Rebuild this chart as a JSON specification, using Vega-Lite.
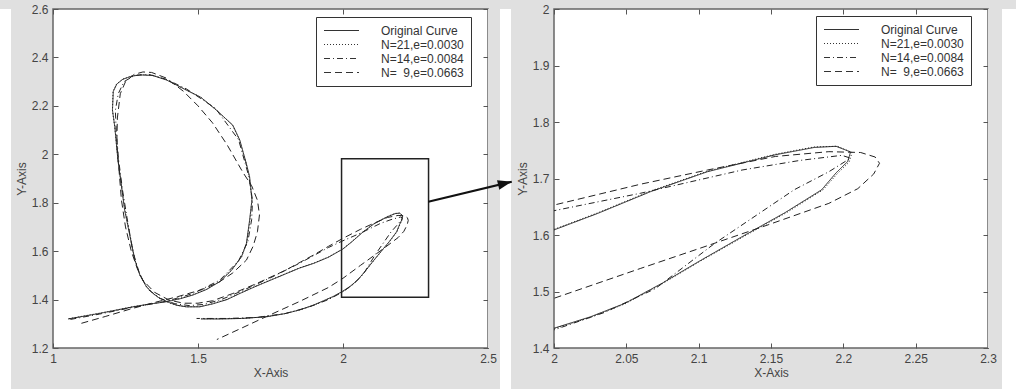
{
  "$schema": "https://vega.github.io/schema/vega-lite/v6.json",
  "background": "#e0e0e0",
  "padding": {"left": 0, "right": 0, "top": 2, "bottom": 0},
  "spacing": 0,
  "bounds": "flush",
  "config": {
    "view": {"stroke": "#666666", "strokeWidth": 1.5, "fill": "white"},
    "axis": {
      "domain": false, "grid": false, "tickSize": -5, "tickColor": "#555555", "tickWidth": 1,
      "labelFont": "Liberation Sans", "labelFontSize": 12, "labelColor": "#444444",
      "labelFlush": false, "labelOverlap": false, "labelPadding": 10,
      "titleFont": "Liberation Sans", "titleFontSize": 12, "titleFontWeight": "normal", "titleColor": "#444444",
      "titlePadding": 3, "minExtent": 0
    },
    "legend": {
      "orient": "none", "title": null, "fillColor": "white", "strokeColor": "#333333", "strokeWidth": 1,
      "padding": 7, "symbolType": "M-3,0L3,0", "symbolSize": 136, "symbolStrokeWidth": 1,
      "symbolStrokeColor": "#333333", "symbolFillColor": "transparent", "symbolOffset": 12,
      "labelOffset": 33, "labelFont": "Liberation Sans", "labelFontSize": 12, "labelColor": "#333333",
      "rowPadding": 1, "labelLimit": 200
    }
  },
  "resolve": {"scale": {"x": "independent", "y": "independent", "strokeDash": "independent"}, "legend": {"strokeDash": "independent"}},
  "datasets": {
    "curves": [
      {"s":"o","i":1,"x":1.052,"y":1.320},{"s":"o","i":2,"x":1.10,"y":1.330},{"s":"o","i":3,"x":1.161,"y":1.343},{"s":"o","i":4,"x":1.22,"y":1.357},{"s":"o","i":5,"x":1.276,"y":1.370},{"s":"o","i":6,"x":1.33,"y":1.381},{"s":"o","i":7,"x":1.391,"y":1.391},{"s":"o","i":8,"x":1.44,"y":1.404},{"s":"o","i":9,"x":1.483,"y":1.419},{"s":"o","i":10,"x":1.53,"y":1.442},
      {"s":"o","i":11,"x":1.575,"y":1.474},{"s":"o","i":12,"x":1.615,"y":1.52},{"s":"o","i":13,"x":1.65,"y":1.577},{"s":"o","i":14,"x":1.667,"y":1.632},{"s":"o","i":15,"x":1.678,"y":1.728},{"s":"o","i":16,"x":1.686,"y":1.811},{"s":"o","i":17,"x":1.678,"y":1.907},{"s":"o","i":18,"x":1.667,"y":1.96},{"s":"o","i":19,"x":1.644,"y":2.059},{"s":"o","i":20,"x":1.62,"y":2.12},
      {"s":"o","i":21,"x":1.563,"y":2.183},{"s":"o","i":22,"x":1.51,"y":2.235},{"s":"o","i":23,"x":1.46,"y":2.265},{"s":"o","i":24,"x":1.391,"y":2.307},{"s":"o","i":25,"x":1.345,"y":2.325},{"s":"o","i":26,"x":1.30,"y":2.328},{"s":"o","i":27,"x":1.27,"y":2.322},{"s":"o","i":28,"x":1.241,"y":2.31},{"s":"o","i":29,"x":1.22,"y":2.29},{"s":"o","i":30,"x":1.208,"y":2.26},
      {"s":"o","i":31,"x":1.205,"y":2.183},{"s":"o","i":32,"x":1.213,"y":2.114},{"s":"o","i":33,"x":1.224,"y":1.976},{"s":"o","i":34,"x":1.236,"y":1.87},{"s":"o","i":35,"x":1.247,"y":1.770},{"s":"o","i":36,"x":1.265,"y":1.665},{"s":"o","i":37,"x":1.282,"y":1.563},{"s":"o","i":38,"x":1.30,"y":1.50},{"s":"o","i":39,"x":1.322,"y":1.453},{"s":"o","i":40,"x":1.345,"y":1.425},
      {"s":"o","i":41,"x":1.368,"y":1.405},{"s":"o","i":42,"x":1.40,"y":1.388},{"s":"o","i":43,"x":1.426,"y":1.377},{"s":"o","i":44,"x":1.46,"y":1.370},{"s":"o","i":45,"x":1.506,"y":1.370},{"s":"o","i":46,"x":1.55,"y":1.382},{"s":"o","i":47,"x":1.60,"y":1.40},{"s":"o","i":48,"x":1.644,"y":1.425},{"s":"o","i":49,"x":1.70,"y":1.455},{"s":"o","i":50,"x":1.75,"y":1.48},
      {"s":"o","i":51,"x":1.80,"y":1.505},{"s":"o","i":52,"x":1.85,"y":1.53},{"s":"o","i":53,"x":1.90,"y":1.55},{"s":"o","i":54,"x":1.95,"y":1.575},{"s":"o","i":55,"x":2.00,"y":1.609},{"s":"o","i":56,"x":2.03,"y":1.638},{"s":"o","i":57,"x":2.067,"y":1.677},{"s":"o","i":58,"x":2.106,"y":1.712},{"s":"o","i":59,"x":2.153,"y":1.742},{"s":"o","i":60,"x":2.18,"y":1.755},
      {"s":"o","i":61,"x":2.195,"y":1.757},{"s":"o","i":62,"x":2.205,"y":1.747},{"s":"o","i":63,"x":2.203,"y":1.73},{"s":"o","i":64,"x":2.195,"y":1.71},{"s":"o","i":65,"x":2.185,"y":1.68},{"s":"o","i":66,"x":2.16,"y":1.64},{"s":"o","i":67,"x":2.13,"y":1.597},{"s":"o","i":68,"x":2.10,"y":1.553},{"s":"o","i":69,"x":2.075,"y":1.515},{"s":"o","i":70,"x":2.049,"y":1.479},
      {"s":"o","i":71,"x":2.025,"y":1.455},{"s":"o","i":72,"x":2.00,"y":1.435},{"s":"o","i":73,"x":1.965,"y":1.412},{"s":"o","i":74,"x":1.90,"y":1.378},{"s":"o","i":75,"x":1.85,"y":1.357},{"s":"o","i":76,"x":1.80,"y":1.342},{"s":"o","i":77,"x":1.736,"y":1.329},{"s":"o","i":78,"x":1.65,"y":1.322},{"s":"o","i":79,"x":1.58,"y":1.320},{"s":"o","i":80,"x":1.51,"y":1.320},

      {"s":"t","i":1,"x":1.055,"y":1.321},{"s":"t","i":2,"x":1.10,"y":1.331},{"s":"t","i":3,"x":1.161,"y":1.344},{"s":"t","i":4,"x":1.22,"y":1.357},{"s":"t","i":5,"x":1.276,"y":1.371},{"s":"t","i":6,"x":1.33,"y":1.381},{"s":"t","i":7,"x":1.391,"y":1.392},{"s":"t","i":8,"x":1.44,"y":1.405},{"s":"t","i":9,"x":1.483,"y":1.420},{"s":"t","i":10,"x":1.53,"y":1.443},
      {"s":"t","i":11,"x":1.575,"y":1.475},{"s":"t","i":12,"x":1.615,"y":1.521},{"s":"t","i":13,"x":1.651,"y":1.578},{"s":"t","i":14,"x":1.668,"y":1.633},{"s":"t","i":15,"x":1.679,"y":1.728},{"s":"t","i":16,"x":1.686,"y":1.812},{"s":"t","i":17,"x":1.677,"y":1.907},{"s":"t","i":18,"x":1.666,"y":1.961},{"s":"t","i":19,"x":1.643,"y":2.060},{"s":"t","i":20,"x":1.619,"y":2.121},
      {"s":"t","i":21,"x":1.562,"y":2.184},{"s":"t","i":22,"x":1.509,"y":2.236},{"s":"t","i":23,"x":1.459,"y":2.266},{"s":"t","i":24,"x":1.390,"y":2.308},{"s":"t","i":25,"x":1.344,"y":2.326},{"s":"t","i":26,"x":1.30,"y":2.329},{"s":"t","i":27,"x":1.269,"y":2.323},{"s":"t","i":28,"x":1.240,"y":2.31},{"s":"t","i":29,"x":1.219,"y":2.29},{"s":"t","i":30,"x":1.207,"y":2.26},
      {"s":"t","i":31,"x":1.205,"y":2.182},{"s":"t","i":32,"x":1.213,"y":2.113},{"s":"t","i":33,"x":1.224,"y":1.975},{"s":"t","i":34,"x":1.236,"y":1.869},{"s":"t","i":35,"x":1.248,"y":1.769},{"s":"t","i":36,"x":1.266,"y":1.664},{"s":"t","i":37,"x":1.283,"y":1.562},{"s":"t","i":38,"x":1.301,"y":1.499},{"s":"t","i":39,"x":1.323,"y":1.452},{"s":"t","i":40,"x":1.346,"y":1.424},
      {"s":"t","i":41,"x":1.369,"y":1.404},{"s":"t","i":42,"x":1.40,"y":1.387},{"s":"t","i":43,"x":1.427,"y":1.376},{"s":"t","i":44,"x":1.46,"y":1.370},{"s":"t","i":45,"x":1.506,"y":1.371},{"s":"t","i":46,"x":1.55,"y":1.383},{"s":"t","i":47,"x":1.60,"y":1.401},{"s":"t","i":48,"x":1.644,"y":1.426},{"s":"t","i":49,"x":1.70,"y":1.456},{"s":"t","i":50,"x":1.75,"y":1.481},
      {"s":"t","i":51,"x":1.80,"y":1.506},{"s":"t","i":52,"x":1.85,"y":1.531},{"s":"t","i":53,"x":1.90,"y":1.551},{"s":"t","i":54,"x":1.95,"y":1.576},{"s":"t","i":55,"x":2.00,"y":1.610},{"s":"t","i":56,"x":2.03,"y":1.639},{"s":"t","i":57,"x":2.067,"y":1.678},{"s":"t","i":58,"x":2.106,"y":1.713},{"s":"t","i":59,"x":2.153,"y":1.743},{"s":"t","i":60,"x":2.18,"y":1.756},
      {"s":"t","i":61,"x":2.196,"y":1.757},{"s":"t","i":62,"x":2.206,"y":1.746},{"s":"t","i":63,"x":2.204,"y":1.729},{"s":"t","i":64,"x":2.196,"y":1.709},{"s":"t","i":65,"x":2.186,"y":1.680},{"s":"t","i":66,"x":2.161,"y":1.640},{"s":"t","i":67,"x":2.131,"y":1.597},{"s":"t","i":68,"x":2.10,"y":1.552},{"s":"t","i":69,"x":2.075,"y":1.514},{"s":"t","i":70,"x":2.049,"y":1.478},
      {"s":"t","i":71,"x":2.025,"y":1.454},{"s":"t","i":72,"x":2.00,"y":1.434},{"s":"t","i":73,"x":1.965,"y":1.411},{"s":"t","i":74,"x":1.90,"y":1.377},{"s":"t","i":75,"x":1.85,"y":1.357},{"s":"t","i":76,"x":1.80,"y":1.342},{"s":"t","i":77,"x":1.736,"y":1.329},{"s":"t","i":78,"x":1.65,"y":1.322},{"s":"t","i":79,"x":1.58,"y":1.321},{"s":"t","i":80,"x":1.512,"y":1.321},

      {"s":"c","i":1,"x":1.06,"y":1.318},{"s":"c","i":2,"x":1.16,"y":1.34},{"s":"c","i":3,"x":1.276,"y":1.368},{"s":"c","i":4,"x":1.391,"y":1.393},{"s":"c","i":5,"x":1.483,"y":1.425},{"s":"c","i":6,"x":1.575,"y":1.48},{"s":"c","i":7,"x":1.64,"y":1.56},{"s":"c","i":8,"x":1.672,"y":1.64},{"s":"c","i":9,"x":1.685,"y":1.73},{"s":"c","i":10,"x":1.688,"y":1.81},
      {"s":"c","i":11,"x":1.675,"y":1.91},{"s":"c","i":12,"x":1.64,"y":2.06},{"s":"c","i":13,"x":1.56,"y":2.19},{"s":"c","i":14,"x":1.46,"y":2.27},{"s":"c","i":15,"x":1.39,"y":2.31},{"s":"c","i":16,"x":1.33,"y":2.33},{"s":"c","i":17,"x":1.28,"y":2.325},{"s":"c","i":18,"x":1.245,"y":2.30},{"s":"c","i":19,"x":1.225,"y":2.25},{"s":"c","i":20,"x":1.215,"y":2.18},
      {"s":"c","i":21,"x":1.218,"y":2.10},{"s":"c","i":22,"x":1.226,"y":1.98},{"s":"c","i":23,"x":1.24,"y":1.85},{"s":"c","i":24,"x":1.255,"y":1.74},{"s":"c","i":25,"x":1.275,"y":1.60},{"s":"c","i":26,"x":1.30,"y":1.50},{"s":"c","i":27,"x":1.33,"y":1.44},{"s":"c","i":28,"x":1.37,"y":1.405},{"s":"c","i":29,"x":1.42,"y":1.383},{"s":"c","i":30,"x":1.47,"y":1.375},
      {"s":"c","i":31,"x":1.52,"y":1.38},{"s":"c","i":32,"x":1.58,"y":1.40},{"s":"c","i":33,"x":1.65,"y":1.435},{"s":"c","i":34,"x":1.75,"y":1.49},{"s":"c","i":35,"x":1.85,"y":1.55},{"s":"c","i":36,"x":1.95,"y":1.615},{"s":"c","i":37,"x":2.0,"y":1.643},{"s":"c","i":38,"x":2.06,"y":1.674},{"s":"c","i":39,"x":2.13,"y":1.715},{"s":"c","i":40,"x":2.17,"y":1.732},
      {"s":"c","i":41,"x":2.199,"y":1.741},{"s":"c","i":42,"x":2.205,"y":1.736},{"s":"c","i":43,"x":2.19,"y":1.712},{"s":"c","i":44,"x":2.166,"y":1.68},{"s":"c","i":45,"x":2.111,"y":1.585},{"s":"c","i":46,"x":2.07,"y":1.505},{"s":"c","i":47,"x":2.035,"y":1.463},{"s":"c","i":48,"x":2.0,"y":1.432},{"s":"c","i":49,"x":1.95,"y":1.40},{"s":"c","i":50,"x":1.88,"y":1.368},
      {"s":"c","i":51,"x":1.80,"y":1.342},{"s":"c","i":52,"x":1.70,"y":1.326},{"s":"c","i":53,"x":1.60,"y":1.322},{"s":"c","i":54,"x":1.495,"y":1.322},

      {"s":"d","i":1,"x":1.098,"y":1.302},{"s":"d","i":2,"x":1.18,"y":1.330},{"s":"d","i":3,"x":1.27,"y":1.362},{"s":"d","i":4,"x":1.35,"y":1.388},{"s":"d","i":5,"x":1.43,"y":1.412},{"s":"d","i":6,"x":1.51,"y":1.440},{"s":"d","i":7,"x":1.57,"y":1.47},{"s":"d","i":8,"x":1.62,"y":1.51},{"s":"d","i":9,"x":1.667,"y":1.563},{"s":"d","i":10,"x":1.69,"y":1.62},
      {"s":"d","i":11,"x":1.705,"y":1.68},{"s":"d","i":12,"x":1.712,"y":1.75},{"s":"d","i":13,"x":1.705,"y":1.81},{"s":"d","i":14,"x":1.685,"y":1.87},{"s":"d","i":15,"x":1.655,"y":1.925},{"s":"d","i":16,"x":1.60,"y":2.04},{"s":"d","i":17,"x":1.55,"y":2.13},{"s":"d","i":18,"x":1.50,"y":2.20},{"s":"d","i":19,"x":1.45,"y":2.26},{"s":"d","i":20,"x":1.39,"y":2.315},
      {"s":"d","i":21,"x":1.34,"y":2.338},{"s":"d","i":22,"x":1.31,"y":2.340},{"s":"d","i":23,"x":1.28,"y":2.33},{"s":"d","i":24,"x":1.25,"y":2.30},{"s":"d","i":25,"x":1.232,"y":2.25},{"s":"d","i":26,"x":1.222,"y":2.15},{"s":"d","i":27,"x":1.220,"y":2.045},{"s":"d","i":28,"x":1.228,"y":1.93},{"s":"d","i":29,"x":1.236,"y":1.811},{"s":"d","i":30,"x":1.25,"y":1.70},
      {"s":"d","i":31,"x":1.27,"y":1.60},{"s":"d","i":32,"x":1.29,"y":1.53},{"s":"d","i":33,"x":1.31,"y":1.48},{"s":"d","i":34,"x":1.35,"y":1.43},{"s":"d","i":35,"x":1.40,"y":1.398},{"s":"d","i":36,"x":1.45,"y":1.385},{"s":"d","i":37,"x":1.50,"y":1.385},{"s":"d","i":38,"x":1.55,"y":1.395},{"s":"d","i":39,"x":1.62,"y":1.425},{"s":"d","i":40,"x":1.70,"y":1.465},
      {"s":"d","i":41,"x":1.80,"y":1.52},{"s":"d","i":42,"x":1.90,"y":1.585},{"s":"d","i":43,"x":1.95,"y":1.62},{"s":"d","i":44,"x":2.00,"y":1.653},{"s":"d","i":45,"x":2.06,"y":1.69},{"s":"d","i":46,"x":2.106,"y":1.715},{"s":"d","i":47,"x":2.153,"y":1.739},{"s":"d","i":48,"x":2.19,"y":1.7475},{"s":"d","i":49,"x":2.212,"y":1.746},{"s":"d","i":50,"x":2.222,"y":1.738},
      {"s":"d","i":51,"x":2.225,"y":1.727},{"s":"d","i":52,"x":2.221,"y":1.708},{"s":"d","i":53,"x":2.21,"y":1.682},{"s":"d","i":54,"x":2.19,"y":1.656},{"s":"d","i":55,"x":2.148,"y":1.618},{"s":"d","i":56,"x":2.106,"y":1.581},{"s":"d","i":57,"x":2.06,"y":1.541},{"s":"d","i":58,"x":2.00,"y":1.488},{"s":"d","i":59,"x":1.95,"y":1.45},{"s":"d","i":60,"x":1.85,"y":1.392},
      {"s":"d","i":61,"x":1.736,"y":1.33},{"s":"d","i":62,"x":1.65,"y":1.282},{"s":"d","i":63,"x":1.565,"y":1.235}
    ],
    "box": [{"x1": 1.995, "x2": 2.295, "y1": 1.41, "y2": 1.982}],
    "arrow": [{"i": 1, "x": 1.9131, "y": 1.6589}, {"i": 2, "x": 1.9708, "y": 1.6943}],
    "head": [{"x": 1.9708, "y": 1.6943}],
    "blank": [{}]
  },
  "hconcat": [
    {"width": 11, "height": 395, "view": {"fill": "white", "stroke": null}, "data": {"name": "blank"}, "mark": {"type": "point", "opacity": 0}},
    {"width": 42, "height": 339, "view": {"fill": "#e0e0e0", "stroke": null}, "data": {"name": "blank"}, "mark": {"type": "point", "opacity": 0}},
    {
      "width": 435, "height": 339,
      "resolve": {"axis": {"x": "independent", "y": "independent"}},
      "layer": [
        {
          "data": {"name": "curves"},
          "mark": {"type": "line", "clip": true, "strokeWidth": 1, "color": "#222222"},
          "encoding": {
            "x": {"field": "x", "type": "quantitative", "scale": {"domain": [1, 2.5], "nice": false, "zero": false},
                  "axis": {"orient": "bottom", "values": [1, 1.5, 2, 2.5], "format": "~g", "title": "X-Axis"}},
            "y": {"field": "y", "type": "quantitative", "scale": {"domain": [1.2, 2.6], "nice": false, "zero": false},
                  "axis": {"orient": "left", "values": [1.2, 1.4, 1.6, 1.8, 2, 2.2, 2.4, 2.6], "format": "~g", "title": "Y-Axis"}},
            "strokeDash": {"field": "s", "type": "nominal",
                  "scale": {"domain": ["o", "t", "c", "d"], "range": [[1, 0], [1, 2], [6, 3, 1, 3], [7, 4]]},
                  "legend": {"legendX": 263, "legendY": 8,
                    "labelExpr": "datum.value == 'o' ? 'Original Curve' : datum.value == 't' ? 'N=21,e=0.0030' : datum.value == 'c' ? 'N=14,e=0.0084' : 'N=\u00a0\u00a09,e=0.0663'"}},
            "order": {"field": "i", "type": "quantitative"}
          }
        },
        {
          "data": {"name": "box"},
          "mark": {"type": "rect", "fillOpacity": 0, "stroke": "#222222", "strokeWidth": 1.5, "clip": false},
          "encoding": {
            "x": {"field": "x1", "type": "quantitative", "scale": {"domain": [1, 2.5], "nice": false, "zero": false},
                  "axis": {"orient": "top", "values": [1, 1.5, 2, 2.5], "labels": false, "title": null}},
            "x2": {"field": "x2"},
            "y": {"field": "y1", "type": "quantitative", "scale": {"domain": [1.2, 2.6], "nice": false, "zero": false},
                  "axis": {"orient": "right", "values": [1.2, 1.4, 1.6, 1.8, 2, 2.2, 2.4, 2.6], "labels": false, "title": null}},
            "y2": {"field": "y2"}
          }
        }
      ]
    },
    {"width": 12, "height": 339, "view": {"fill": "#e0e0e0", "stroke": null}, "data": {"name": "blank"}, "mark": {"type": "point", "opacity": 0}},
    {"width": 11, "height": 395, "view": {"fill": "white", "stroke": null}, "data": {"name": "blank"}, "mark": {"type": "point", "opacity": 0}},
    {"width": 43, "height": 339, "view": {"fill": "#e0e0e0", "stroke": null}, "data": {"name": "blank"}, "mark": {"type": "point", "opacity": 0}},
    {
      "width": 434, "height": 339,
      "resolve": {"axis": {"x": "independent", "y": "independent"}},
      "layer": [
        {
          "data": {"name": "curves"},
          "mark": {"type": "line", "clip": true, "strokeWidth": 1, "color": "#222222"},
          "encoding": {
            "x": {"field": "x", "type": "quantitative", "scale": {"domain": [2, 2.3], "nice": false, "zero": false},
                  "axis": {"orient": "bottom", "values": [2, 2.05, 2.1, 2.15, 2.2, 2.25, 2.3], "format": "~g", "title": "X-Axis"}},
            "y": {"field": "y", "type": "quantitative", "scale": {"domain": [1.4, 2], "nice": false, "zero": false},
                  "axis": {"orient": "left", "values": [1.4, 1.5, 1.6, 1.7, 1.8, 1.9, 2], "format": "~g", "title": "Y-Axis"}},
            "strokeDash": {"field": "s", "type": "nominal",
                  "scale": {"domain": ["o", "t", "c", "d"], "range": [[1, 0], [1, 2], [6, 3, 1, 3], [7, 4]]},
                  "legend": {"legendX": 262, "legendY": 7,
                    "labelExpr": "datum.value == 'o' ? 'Original Curve' : datum.value == 't' ? 'N=21,e=0.0030' : datum.value == 'c' ? 'N=14,e=0.0084' : 'N=\u00a0\u00a09,e=0.0663'"}},
            "order": {"field": "i", "type": "quantitative"}
          }
        },
        {
          "data": {"name": "arrow"},
          "mark": {"type": "line", "clip": false, "strokeWidth": 2, "color": "#111111"},
          "encoding": {
            "x": {"field": "x", "type": "quantitative", "scale": {"domain": [2, 2.3], "nice": false, "zero": false},
                  "axis": {"orient": "top", "values": [2, 2.05, 2.1, 2.15, 2.2, 2.25, 2.3], "labels": false, "title": null}},
            "y": {"field": "y", "type": "quantitative", "scale": {"domain": [1.4, 2], "nice": false, "zero": false},
                  "axis": {"orient": "right", "values": [1.4, 1.5, 1.6, 1.7, 1.8, 1.9, 2], "labels": false, "title": null}},
            "order": {"field": "i", "type": "quantitative"}
          }
        },
        {
          "data": {"name": "head"},
          "mark": {"type": "point", "clip": false, "shape": "M0,0L-2,-0.7L-2,0.7Z", "size": 196, "filled": true, "color": "#111111", "opacity": 1, "angle": -13.5},
          "encoding": {
            "x": {"field": "x", "type": "quantitative", "scale": {"domain": [2, 2.3], "nice": false, "zero": false}, "axis": null},
            "y": {"field": "y", "type": "quantitative", "scale": {"domain": [1.4, 2], "nice": false, "zero": false}, "axis": null}
          }
        }
      ]
    },
    {"width": 14, "height": 339, "view": {"fill": "#e0e0e0", "stroke": null}, "data": {"name": "blank"}, "mark": {"type": "point", "opacity": 0}},
    {"width": 14, "height": 395, "view": {"fill": "white", "stroke": null}, "data": {"name": "blank"}, "mark": {"type": "point", "opacity": 0}}
  ]
}
